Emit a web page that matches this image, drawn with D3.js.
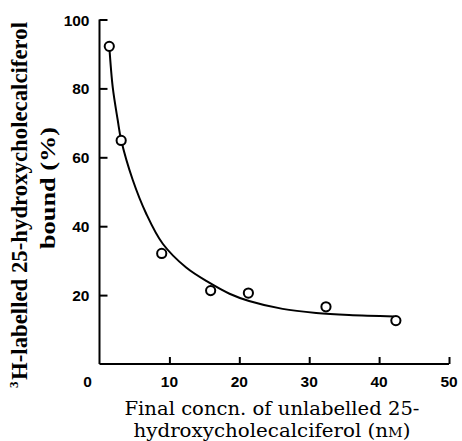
<!DOCTYPE html>
<html>
<head>
<meta charset="utf-8">
<script src="https://cdn.jsdelivr.net/npm/d3@7"></script>
<style>
  body { margin: 0; background: #fff; }
  svg { display: block; }
</style>
</head>
<body>
<div id="chart"></div>
<script>
// measured points (open circles)
const concn = [1.4, 3.1, 8.9, 15.9, 21.3, 32.4, 42.4];
const bound = [92.2, 64.9, 32.1, 21.3, 20.6, 16.6, 12.6];

// hand-drawn fitted curve
const fitX = [1.4, 1.9, 2.6, 3.1, 4.76, 6.67, 9.05, 12.4, 15.7, 18.6, 21.4, 26.2, 31.0, 35.7, 42.2];
const fitY = [92.2, 80.2, 70.9, 65.0, 53.4, 43.7, 34.9, 28.0, 23.6, 20.4, 18.3, 16.0, 14.8, 14.2, 13.8];

const xTicks = [10, 20, 30, 40, 50];
const yTicks = [20, 40, 60, 80, 100];

const W = 462, H = 441;
const x = d3.scaleLinear().domain([0, 50]).range([99.5, 449]);
const y = d3.scaleLinear().domain([0, 100]).range([364, 19.5]);

const svg = d3.select("#chart").append("svg")
    .attr("width", W)
    .attr("height", H);

const tickFont = "'Liberation Sans', Arial, sans-serif";
const serif = "'DejaVu Serif', 'Liberation Serif', serif";

// x axis, ticks pointing up
const xAxis = svg.append("g")
    .attr("transform", `translate(0,${y(0)})`)
    .call(d3.axisTop(x).tickValues(xTicks).tickSize(7).tickFormat(""));
xAxis.select(".domain").attr("d", `M${x(0)},0H${x(50)}`);
xAxis.selectAll("path, line").attr("stroke", "#000").attr("stroke-width", 2);

svg.append("g").selectAll("text")
    .data([0].concat(xTicks))
    .join("text")
    .attr("x", d => d === 0 ? x(0) - 12 : x(d))
    .attr("y", y(0) + 23)
    .attr("text-anchor", "middle")
    .style("font-family", tickFont)
    .style("font-weight", "bold")
    .style("font-size", "15.5px")
    .text(d => d);

// y axis, ticks pointing right
const yAxis = svg.append("g")
    .attr("transform", `translate(${x(0)},0)`)
    .call(d3.axisRight(y).tickValues(yTicks).tickSize(8).tickFormat(""));
yAxis.select(".domain").attr("d", `M0,${y(0)}V${y(100)}`);
yAxis.selectAll("path, line").attr("stroke", "#000").attr("stroke-width", 2);

svg.append("g").selectAll("text")
    .data(yTicks)
    .join("text")
    .attr("x", x(0) - 10)
    .attr("y", d => y(d) + 6)
    .attr("text-anchor", "end")
    .style("font-family", tickFont)
    .style("font-weight", "bold")
    .style("font-size", "15.5px")
    .text(d => d);

// fitted curve
const line = d3.line()
    .x(d => x(d[0]))
    .y(d => y(d[1]))
    .curve(d3.curveCatmullRom.alpha(0.5));

svg.append("path")
    .datum(d3.zip(fitX, fitY))
    .attr("d", line)
    .attr("fill", "none")
    .attr("stroke", "#000")
    .attr("stroke-width", 2);

// data points
svg.append("g").selectAll("circle")
    .data(d3.zip(concn, bound))
    .join("circle")
    .attr("cx", d => x(d[0]))
    .attr("cy", d => y(d[1]))
    .attr("r", 4.6)
    .attr("fill", "#fff")
    .attr("stroke", "#000")
    .attr("stroke-width", 2);

// x title
const xt = svg.append("text")
    .attr("text-anchor", "middle")
    .style("font-family", serif)
    .style("font-size", "18px");
xt.append("tspan").attr("x", 272).attr("y", 415)
    .attr("textLength", 295).attr("lengthAdjust", "spacingAndGlyphs")
    .text("Final concn. of unlabelled 25-");
const l2 = xt.append("tspan").attr("x", 272).attr("y", 437)
    .attr("textLength", 277).attr("lengthAdjust", "spacingAndGlyphs");
l2.append("tspan").text("hydroxycholecalciferol (n");
l2.append("tspan").style("font-size", "13px").text("M");
l2.append("tspan").text(")");

// y title (rotated); line 1 laid out from its start so the superscript sits at the bottom
const ytFont = "'Liberation Serif', 'DejaVu Serif', serif";
const yt1 = svg.append("text")
    .attr("transform", "rotate(-90)")
    .style("font-family", ytFont)
    .style("font-weight", "bold")
    .style("font-size", "23px");
yt1.append("tspan").attr("x", -388).attr("y", 18)
    .style("font-size", "13px").text("3");
yt1.append("tspan").attr("x", -380).attr("y", 27)
    .attr("textLength", 358).attr("lengthAdjust", "spacingAndGlyphs")
    .text("H-labelled 25-hydroxycholecalciferol");

svg.append("text")
    .attr("transform", "rotate(-90)")
    .attr("text-anchor", "middle")
    .style("font-family", ytFont)
    .style("font-weight", "bold")
    .style("font-size", "22px")
    .append("tspan").attr("x", -188).attr("y", 55)
    .attr("textLength", 122).attr("lengthAdjust", "spacingAndGlyphs")
    .text("bound (%)");
</script>
</body>
</html>
